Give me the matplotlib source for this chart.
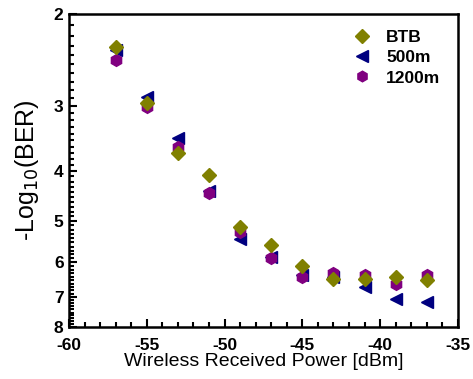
import matplotlib
matplotlib.use("Agg")
import matplotlib.pyplot as plt
from matplotlib.ticker import FixedLocator, NullFormatter, MultipleLocator

plt.rcParams['font.family'] = ['Liberation Sans', 'DejaVu Sans']
plt.rcParams['axes.unicode_minus'] = False

power = [-57, -55, -53, -51, -49, -47, -45, -43, -41, -39, -37]
btb = [2.31, 2.97, 3.70, 4.08, 5.13, 5.56, 6.10, 6.46, 6.46, 6.40, 6.50]
m500 = [2.35, 2.89, 3.46, 4.38, 5.42, 5.86, 6.35, 6.40, 6.70, 7.06, 7.16]
m1200 = [2.45, 3.02, 3.60, 4.42, 5.25, 5.88, 6.40, 6.30, 6.35, 6.60, 6.35]
yticks = [2, 3, 4, 5, 6, 7, 8]

fig = plt.figure(figsize=(4.73, 3.79), dpi=100)
ax = fig.add_axes([0.146, 0.137, 0.822, 0.826])

ax.plot(power, m500, ls='none', marker='<', ms=9, color='#000080', label='500m', zorder=3)
ax.plot(power, m1200, ls='none', marker='h', ms=8.5, color='#800080', label='1200m', zorder=4)
ax.plot(power, btb, ls='none', marker='D', ms=7.5, color='#808000', label='BTB', zorder=5)

ax.set_yscale('log')
ax.set_ylim(8, 2)
ax.yaxis.set_major_locator(FixedLocator(yticks))
ax.set_yticklabels([str(t) for t in yticks])
minor = [round(2 + 0.1 * i, 1) for i in range(61) if (i % 10) != 0]
ax.yaxis.set_minor_locator(FixedLocator(minor))
ax.yaxis.set_minor_formatter(NullFormatter())

ax.set_xlim(-60, -35)
ax.xaxis.set_major_locator(MultipleLocator(5))
ax.xaxis.set_minor_locator(MultipleLocator(1))

ax.tick_params(which='both', direction='in', top=False, right=False, width=1.5)
ax.tick_params(which='major', length=6, labelsize=12.5)
ax.tick_params(which='minor', length=3.5)
ax.tick_params(axis='x', which='major', pad=8)
ax.tick_params(axis='y', which='major', pad=4)
for lab in ax.get_xticklabels() + ax.get_yticklabels():
    lab.set_fontweight('bold')
for s in ax.spines.values():
    s.set_linewidth(1.8)

ax.set_xlabel('Wireless Received Power [dBm]', fontsize=14, labelpad=0)
ax.set_ylabel('-Log$_{10}$(BER)', fontsize=18, labelpad=9)

h, l = ax.get_legend_handles_labels()
order = [2, 0, 1]
leg = ax.legend([h[i] for i in order], [l[i] for i in order], loc='upper right',
                bbox_to_anchor=(0.995, 1.0), frameon=False, handletextpad=0.4,
                labelspacing=0.3, markerscale=0.9, prop={'weight': 'bold', 'size': 12.5})

fig.savefig('out.png', dpi=100)
